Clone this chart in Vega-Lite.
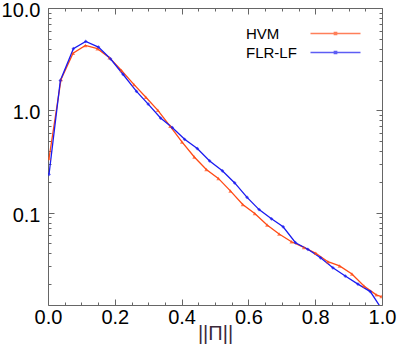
{
  "$schema": "https://vega.github.io/schema/vega-lite/v6.json",
  "width": 334,
  "height": 297,
  "autosize": "none",
  "padding": {"left": 48, "top": 8, "right": 17, "bottom": 44},
  "config": {
    "font": "Liberation Sans",
    "view": {"stroke": null},
    "axis": {"grid": false, "domainColor": "#666666", "tickColor": "#666666", "labelColor": "#000000", "labelFont": "Liberation Sans", "labelFontSize": 20, "domainWidth": 1, "tickWidth": 1, "labelFlush": false}
  },
  "data": {"values": [
    {"model": "HVM", "r": 0.003, "p": 0.338},
    {"model": "HVM", "r": 0.039, "p": 2.0},
    {"model": "HVM", "r": 0.075, "p": 3.62},
    {"model": "HVM", "r": 0.112, "p": 4.31},
    {"model": "HVM", "r": 0.148, "p": 4.0},
    {"model": "HVM", "r": 0.184, "p": 3.27},
    {"model": "HVM", "r": 0.220, "p": 2.45},
    {"model": "HVM", "r": 0.257, "p": 1.79},
    {"model": "HVM", "r": 0.293, "p": 1.34},
    {"model": "HVM", "r": 0.329, "p": 1.0},
    {"model": "HVM", "r": 0.366, "p": 0.698},
    {"model": "HVM", "r": 0.401, "p": 0.491},
    {"model": "HVM", "r": 0.438, "p": 0.35},
    {"model": "HVM", "r": 0.474, "p": 0.264},
    {"model": "HVM", "r": 0.510, "p": 0.216},
    {"model": "HVM", "r": 0.546, "p": 0.163},
    {"model": "HVM", "r": 0.583, "p": 0.12},
    {"model": "HVM", "r": 0.619, "p": 0.098},
    {"model": "HVM", "r": 0.656, "p": 0.0755},
    {"model": "HVM", "r": 0.692, "p": 0.0617},
    {"model": "HVM", "r": 0.729, "p": 0.0519},
    {"model": "HVM", "r": 0.766, "p": 0.0457},
    {"model": "HVM", "r": 0.802, "p": 0.040},
    {"model": "HVM", "r": 0.838, "p": 0.0331},
    {"model": "HVM", "r": 0.873, "p": 0.0301},
    {"model": "HVM", "r": 0.910, "p": 0.0251},
    {"model": "HVM", "r": 0.946, "p": 0.0192},
    {"model": "HVM", "r": 0.983, "p": 0.0157},
    {"model": "HVM", "r": 0.998, "p": 0.0151},
    {"model": "FLR-LF", "r": 0.003, "p": 0.236},
    {"model": "FLR-LF", "r": 0.037, "p": 1.96},
    {"model": "FLR-LF", "r": 0.076, "p": 4.0},
    {"model": "FLR-LF", "r": 0.113, "p": 4.71},
    {"model": "FLR-LF", "r": 0.151, "p": 4.15},
    {"model": "FLR-LF", "r": 0.187, "p": 3.19},
    {"model": "FLR-LF", "r": 0.225, "p": 2.24},
    {"model": "FLR-LF", "r": 0.265, "p": 1.53},
    {"model": "FLR-LF", "r": 0.300, "p": 1.15},
    {"model": "FLR-LF", "r": 0.337, "p": 0.84},
    {"model": "FLR-LF", "r": 0.372, "p": 0.678},
    {"model": "FLR-LF", "r": 0.409, "p": 0.521},
    {"model": "FLR-LF", "r": 0.447, "p": 0.423},
    {"model": "FLR-LF", "r": 0.484, "p": 0.32},
    {"model": "FLR-LF", "r": 0.522, "p": 0.256},
    {"model": "FLR-LF", "r": 0.559, "p": 0.195},
    {"model": "FLR-LF", "r": 0.596, "p": 0.141},
    {"model": "FLR-LF", "r": 0.632, "p": 0.107},
    {"model": "FLR-LF", "r": 0.669, "p": 0.087},
    {"model": "FLR-LF", "r": 0.704, "p": 0.0727},
    {"model": "FLR-LF", "r": 0.741, "p": 0.0508},
    {"model": "FLR-LF", "r": 0.778, "p": 0.0438},
    {"model": "FLR-LF", "r": 0.816, "p": 0.0362},
    {"model": "FLR-LF", "r": 0.853, "p": 0.0289},
    {"model": "FLR-LF", "r": 0.890, "p": 0.024},
    {"model": "FLR-LF", "r": 0.928, "p": 0.020},
    {"model": "FLR-LF", "r": 0.965, "p": 0.0169},
    {"model": "FLR-LF", "r": 0.997, "p": 0.0117}
  ]},
  "layer": [
    {
      "mark": {"type": "line", "strokeWidth": 1.3, "clip": true},
      "encoding": {
        "x": {"field": "r", "type": "quantitative", "scale": {"domain": [0, 1], "nice": false},
              "axis": {"orient": "bottom", "values": [0, 0.2, 0.4, 0.6, 0.8, 1.0], "format": ".1f", "tickSize": -6, "labelPadding": 8, "title": "||Π||", "titleFontSize": 20, "titleFont": "Liberation Sans", "titleFontWeight": "normal", "titleColor": "#3a2a3a", "titlePadding": -4}},
        "y": {"field": "p", "type": "quantitative", "scale": {"type": "log", "domain": [0.0125, 10], "nice": false},
              "axis": {"orient": "left", "values": [0.1, 1, 10], "format": ".1f", "tickSize": -6, "labelPadding": 14, "labelOffset": 2.5, "title": null}},
        "color": {"field": "model", "type": "nominal", "sort": ["HVM", "FLR-LF"],
                  "scale": {"domain": ["HVM", "FLR-LF"], "range": ["#ff4a14", "#1a1af0"]},
                  "legend": {"orient": "none", "legendX": 280, "legendY": 18, "title": null, "symbolType": "M-25,0H25M-1.2,-1.2H1.2V1.2H-1.2Z", "symbolSize": 4, "symbolStrokeWidth": 1.3, "labelFontSize": 15, "labelFont": "Liberation Sans", "labelColor": "#000000", "labelOffset": -97, "labelAlign": "left", "rowPadding": 3, "padding": 0}}
      }
    },
    {
      "transform": [{"filter": "datum.model === 'HVM'"}],
      "mark": {"type": "point", "filled": true, "size": 16, "shape": "triangle-up", "clip": true},
      "encoding": {
        "x": {"field": "r", "type": "quantitative", "axis": {"orient": "top", "values": [0, 0.2, 0.4, 0.6, 0.8, 1.0], "labels": false, "tickSize": -6, "title": null}},
        "y": {"field": "p", "type": "quantitative", "axis": {"orient": "right", "values": [0.1, 1, 10], "labels": false, "tickSize": -6, "title": null}},
        "color": {"field": "model", "type": "nominal", "sort": ["HVM", "FLR-LF"]}
      }
    },
    {
      "transform": [{"filter": "datum.model === 'FLR-LF'"}],
      "mark": {"type": "point", "filled": true, "size": 14, "shape": "diamond", "clip": true},
      "encoding": {
        "x": {"field": "r", "type": "quantitative", "axis": {"orient": "bottom", "values": [0.05, 0.1, 0.15, 0.25, 0.3, 0.35, 0.45, 0.5, 0.55, 0.65, 0.7, 0.75, 0.85, 0.9, 0.95], "labels": false, "tickSize": -3, "domain": false, "title": null}},
        "y": {"field": "p", "type": "quantitative", "axis": {"orient": "left", "values": [0.02, 0.03, 0.04, 0.05, 0.06, 0.07, 0.08, 0.09, 0.2, 0.3, 0.4, 0.5, 0.6, 0.7, 0.8, 0.9, 2, 3, 4, 5, 6, 7, 8, 9], "labels": false, "tickSize": -3, "domain": false, "title": null}},
        "color": {"field": "model", "type": "nominal", "sort": ["HVM", "FLR-LF"]}
      }
    },
    {
      "mark": {"type": "point", "opacity": 0},
      "encoding": {
        "x": {"field": "r", "type": "quantitative", "axis": {"orient": "top", "values": [0.05, 0.1, 0.15, 0.25, 0.3, 0.35, 0.45, 0.5, 0.55, 0.65, 0.7, 0.75, 0.85, 0.9, 0.95], "labels": false, "tickSize": -3, "domain": false, "title": null}},
        "y": {"field": "p", "type": "quantitative", "axis": {"orient": "right", "values": [0.02, 0.03, 0.04, 0.05, 0.06, 0.07, 0.08, 0.09, 0.2, 0.3, 0.4, 0.5, 0.6, 0.7, 0.8, 0.9, 2, 3, 4, 5, 6, 7, 8, 9], "labels": false, "tickSize": -3, "domain": false, "title": null}}
      }
    }
  ],
  "resolve": {"axis": {"x": "independent", "y": "independent"}}
}
